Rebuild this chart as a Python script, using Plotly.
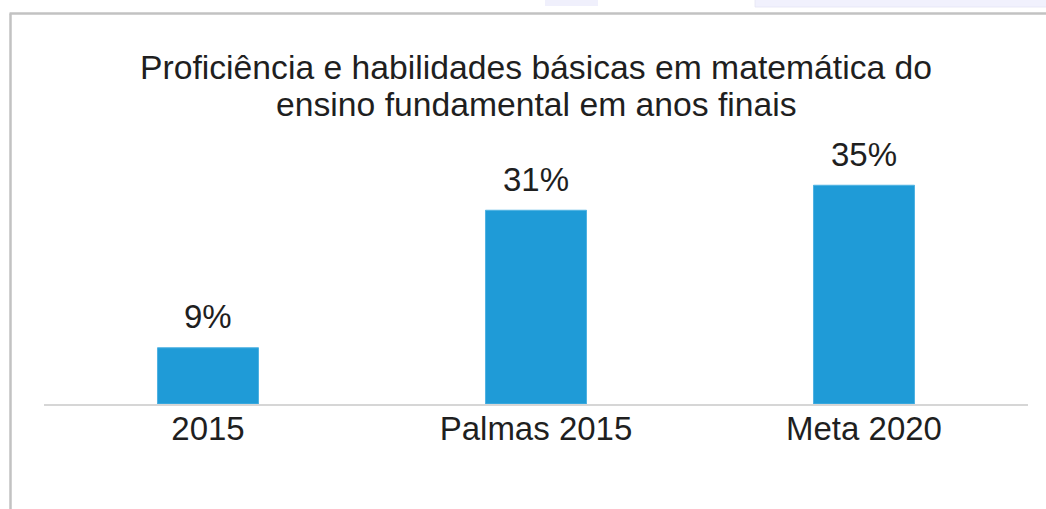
import plotly.graph_objects as go

categories = ["2015", "Palmas 2015", "Meta 2020"]
values = [9, 31, 35]
value_labels = ["9%", "31%", "35%"]
title_lines = ["Proficiência e habilidades básicas em matemática do",
               "ensino fundamental em anos finais"]

FONT = "Liberation Sans, Arial, sans-serif"
TXT = "#1f1f1f"
BAR = "#1f9bd7"

fig = go.Figure()
fig.add_trace(go.Bar(
    x=categories, y=values,
    marker=dict(color=BAR, line=dict(color="#4fb2e2", width=1)),
    hoverinfo="skip",
))

annotations = []
for i, (v, lab) in enumerate(zip(values, value_labels)):
    annotations.append(dict(x=i, y=v, xref="x", yref="y", text=lab, showarrow=False,
                            yanchor="middle", yshift=31,
                            font=dict(family=FONT, size=33, color=TXT)))
for line, yp in zip(title_lines, [1.346, 1.2016]):
    annotations.append(dict(x=0.5, y=yp, xref="paper", yref="paper", text=line,
                            showarrow=False, yanchor="middle", xanchor="center",
                            font=dict(family=FONT, size=33.7, color=TXT)))

shapes = [
    # outer border (left and top)
    dict(type="line", xref="paper", yref="paper", x0=-0.03404, x1=-0.03404, y0=1.562, y1=-0.6,
         line=dict(color="#c2c2c2", width=2.5)),
    dict(type="line", xref="paper", yref="paper", x0=-0.035, x1=1.1, y0=1.562, y1=1.562,
         line=dict(color="#c2c2c2", width=2.5)),
    # faint artifacts at the very top
    dict(type="rect", xref="paper", yref="paper", x0=0.5091, x1=0.563, y0=1.592, y1=1.7,
         fillcolor="#f0f0fc", line=dict(width=0)),
    dict(type="rect", xref="paper", yref="paper", x0=0.7226, x1=1.1, y0=1.588, y1=1.7,
         fillcolor="#f1f1fd", line=dict(color="#e4e4f4", width=0.8)),
]

fig.update_layout(
    width=1046, height=509,
    margin=dict(l=44, r=18, t=154, b=105),
    paper_bgcolor="white", plot_bgcolor="white",
    showlegend=False,
    bargap=0.692,
    annotations=annotations,
    shapes=shapes,
    font=dict(family=FONT, size=33, color=TXT),
    xaxis=dict(type="category", range=[-0.5, len(categories) - 0.5],
               showline=True, linecolor="#d6d6d6", linewidth=2, showgrid=False,
               ticks="", ticklabelstandoff=-6,
               tickfont=dict(family=FONT, size=33, color=TXT), fixedrange=True),
    yaxis=dict(range=[0, 40], visible=False, fixedrange=True),
)

fig.write_html("out.html", config={"displayModeBar": False},
               post_script="document.body.style.margin='0';")
